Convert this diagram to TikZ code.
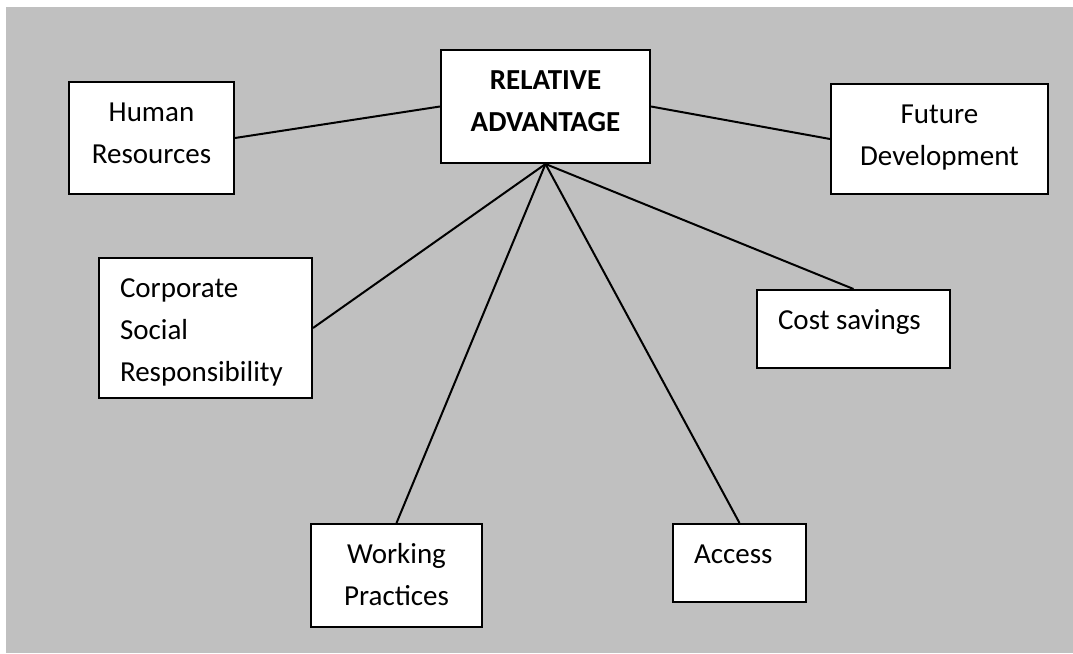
\documentclass[tikz,border=0pt]{standalone}
\usepackage{fontspec}
\setmainfont{Carlito}
\definecolor{bggray}{HTML}{C0C0C0}
\tikzset{
    box/.style={draw, fill=white, line width=2pt, anchor=north west, align=center,
        inner xsep=21pt, inner ysep=0pt, text height=39pt},
    link/.style={line width=2pt}
}
\begin{document}
\begin{tikzpicture}[x=1pt,y=-1pt,font=\fontsize{29}{42}\selectfont]
        % Draw page and grey background
        \useasboundingbox (0,0) rectangle (1073,653);
        \fill[white] (0,0) rectangle (1073,653);
        \fill[bggray] (6,7) rectangle (1073,653);
        % Draw centre box
        \node[box, text width=167pt, text depth=74pt] (adv) at (440,49) {\textbf{RELATIVE}\\\textbf{ADVANTAGE}};
        % Draw top boxes
        \node[box, text width=123pt, text depth=73pt] (hr) at (68,81) {Human\\Resources};
        \node[box, text width=175pt, text depth=71pt] (future) at (830,83) {Future\\Development};
        % Draw middle boxes
        \node[box, align=flush left, text width=171pt, text depth=101pt] (csr) at (98,257) {Corporate\\Social\\Responsibility};
        \node[box, align=flush left, text width=151pt, text depth=39pt] (cost) at (756,289) {Cost savings};
        % Draw bottom boxes
        \node[box, text width=129pt, text depth=64pt] (work) at (310,523) {Working\\Practices};
        \node[box, align=flush left, text width=91pt, text depth=39pt] (access) at (672,523) {Access};
        % Draw connecting lines
        \draw[link] (hr.east) -- (adv.west);
        \draw[link] (adv.east) -- (future.west);
        \draw[link] (adv.south) -- (csr.east);
        \draw[link] (adv.south) -- (work.north);
        \draw[link] (adv.south) -- (access.north);
        \draw[link] (adv.south) -- (cost.north);
    \end{tikzpicture}
\end{document}
